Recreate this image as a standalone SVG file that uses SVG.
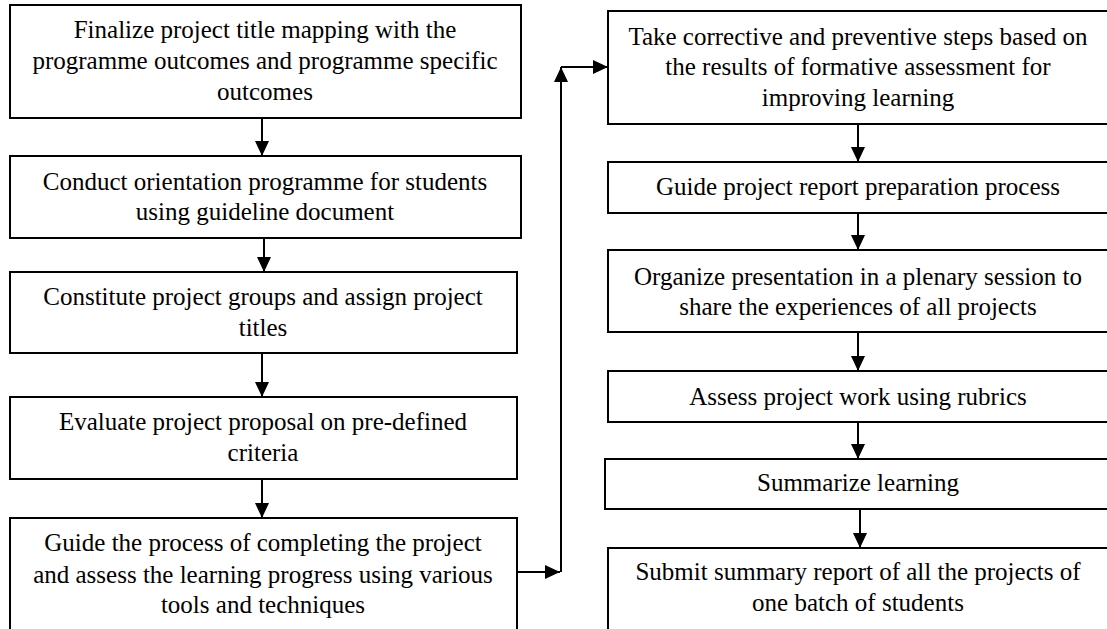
<svg xmlns="http://www.w3.org/2000/svg" width="1107" height="629" viewBox="0 0 1107 629">
<style>
.box{fill:#fff;stroke:#000;stroke-width:2}
.t{font-family:"Times New Roman",Tinos,"Liberation Serif","Noto Serif","Nimbus Roman","FreeSerif","DejaVu Serif",serif;font-size:25px;fill:#000;text-anchor:middle}
.c{fill:none;stroke:#000;stroke-width:2}
</style>
<defs>
<marker id="ah" markerUnits="userSpaceOnUse" markerWidth="15" markerHeight="14" refX="15" refY="7" orient="auto">
<path d="M0,0 L15,7 L0,14 z" fill="#000"/>
</marker>
</defs>
<rect width="1107" height="629" fill="#fff"/>
<g id="n1"><rect class="box" x="10" y="5" width="511" height="113"/>
<text class="t" x="265" y="38">Finalize project title mapping with the</text>
<text class="t" x="265" y="69">programme outcomes and programme specific</text>
<text class="t" x="265" y="100">outcomes</text></g>
<g id="n2"><rect class="box" x="10" y="156" width="511" height="82"/>
<text class="t" x="265" y="190">Conduct orientation programme for students</text>
<text class="t" x="265" y="220">using guideline document</text></g>
<g id="n3"><rect class="box" x="10" y="272" width="507" height="81"/>
<text class="t" x="263" y="305">Constitute project groups and assign project</text>
<text class="t" x="263" y="336">titles</text></g>
<g id="n4"><rect class="box" x="10" y="397" width="507" height="82"/>
<text class="t" x="263" y="430">Evaluate project proposal on pre-defined</text>
<text class="t" x="263" y="461">criteria</text></g>
<g id="n5"><rect class="box" x="10" y="518" width="507" height="130"/>
<text class="t" x="263" y="551">Guide the process of completing the project</text>
<text class="t" x="263" y="583">and assess the learning progress using various</text>
<text class="t" x="263" y="613">tools and techniques</text></g>
<g id="n6"><rect class="box" x="608" y="11" width="510" height="113"/>
<text class="t" x="858" y="45">Take corrective and preventive steps based on</text>
<text class="t" x="858" y="75">the results of formative assessment for</text>
<text class="t" x="858" y="106">improving learning</text></g>
<g id="n7"><rect class="box" x="608" y="162" width="510" height="51"/>
<text class="t" x="858" y="195">Guide project report preparation process</text></g>
<g id="n8"><rect class="box" x="608" y="250" width="510" height="82"/>
<text class="t" x="858" y="285">Organize presentation in a plenary session to</text>
<text class="t" x="858" y="315">share the experiences of all projects</text></g>
<g id="n9"><rect class="box" x="608" y="371" width="510" height="51"/>
<text class="t" x="858" y="405">Assess project work using rubrics</text></g>
<g id="n10"><rect class="box" x="605" y="459" width="513" height="50"/>
<text class="t" x="858" y="491">Summarize learning</text></g>
<g id="n11"><rect class="box" x="608" y="548" width="510" height="100"/>
<text class="t" x="858" y="580">Submit summary report of all the projects of</text>
<text class="t" x="858" y="611">one batch of students</text></g>
<g id="connectors">
<line class="c" x1="262" y1="118" x2="262" y2="156" marker-end="url(#ah)"/>
<line class="c" x1="264" y1="238" x2="264" y2="272" marker-end="url(#ah)"/>
<line class="c" x1="262" y1="353" x2="262" y2="397" marker-end="url(#ah)"/>
<line class="c" x1="262" y1="479" x2="262" y2="518" marker-end="url(#ah)"/>
<line class="c" x1="517" y1="572" x2="560" y2="572" marker-end="url(#ah)"/>
<line class="c" x1="561" y1="572" x2="561" y2="67" marker-end="url(#ah)"/>
<line class="c" x1="561" y1="67" x2="608" y2="67" marker-end="url(#ah)"/>
<line class="c" x1="858" y1="124" x2="858" y2="162" marker-end="url(#ah)"/>
<line class="c" x1="858" y1="213" x2="858" y2="250" marker-end="url(#ah)"/>
<line class="c" x1="858" y1="332" x2="858" y2="371" marker-end="url(#ah)"/>
<line class="c" x1="858" y1="422" x2="858" y2="459" marker-end="url(#ah)"/>
<line class="c" x1="860" y1="509" x2="860" y2="548" marker-end="url(#ah)"/>
</g>
</svg>
